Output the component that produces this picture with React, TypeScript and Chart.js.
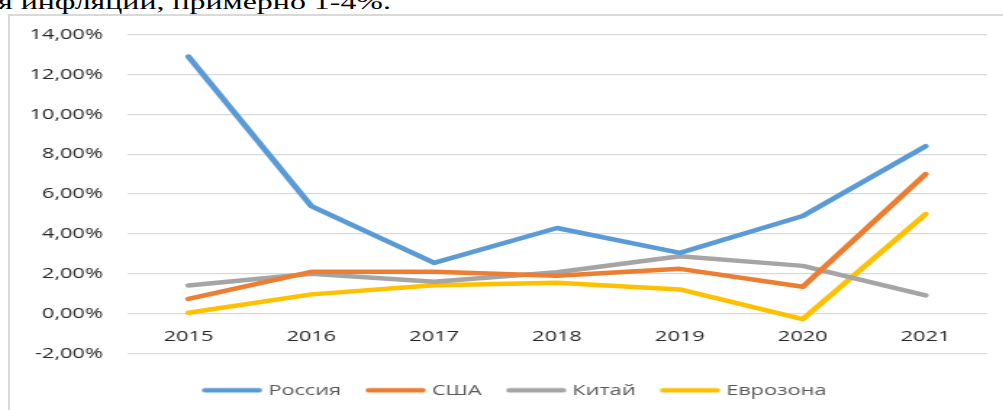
import React, { useEffect, useRef } from "react";
import { Chart, registerables } from "chart.js";

Chart.register(...registerables);

const years = ["2015", "2016", "2017", "2018", "2019", "2020", "2021"];
const russia = [12.9, 5.4, 2.55, 4.3, 3.05, 4.9, 8.4];
const usa = [0.74, 2.1, 2.1, 1.9, 2.25, 1.35, 7.0];
const china = [1.42, 2.0, 1.6, 2.08, 2.88, 2.4, 0.92];
const eurozone = [0.05, 0.97, 1.43, 1.55, 1.22, -0.27, 5.0];
const seriesNames = ["Россия", "США", "Китай", "Еврозона"];
const yMin = -2;
const yMax = 14;
const yStep = 2;

const STRETCH = 1.45;
const CW = 699;
const CH = 401;
const CTOP = 8.7;
const FONT = "'Open Sans', 'DejaVu Sans', sans-serif";

function lineSwatch(color: string) {
  const c = document.createElement("canvas");
  c.width = 42;
  c.height = 8;
  const g = c.getContext("2d") as CanvasRenderingContext2D;
  g.strokeStyle = color;
  g.lineWidth = 4.5;
  g.lineCap = "round";
  g.beginPath();
  g.moveTo(2.5, 4);
  g.lineTo(39.5, 4);
  g.stroke();
  return c;
}

const unclipY = {
  id: "unclipY",
  afterLayout(chart: any) {
    const s = chart.scales.y;
    if (s) s.left = 0;
  },
};

export default function App() {
  const ref = useRef<HTMLCanvasElement | null>(null);

  useEffect(() => {
    document.body.style.margin = "0";
    const colors = ["#5B9BD5", "#ED7D31", "#A5A5A5", "#FFC000"];
    const data = [russia, usa, china, eurozone];
    const chart = new Chart(ref.current as HTMLCanvasElement, {
      type: "line",
      data: {
        labels: years,
        datasets: seriesNames.map((n, i) => ({
          label: n,
          data: data[i],
          borderColor: colors[i],
          backgroundColor: colors[i],
          borderWidth: 4.5,
          borderCapStyle: "round" as const,
          borderJoinStyle: "round" as const,
          pointRadius: 0,
          pointHoverRadius: 0,
          pointStyle: lineSwatch(colors[i]) as any,
          tension: 0,
          fill: false,
        })),
      },
      plugins: [unclipY],
      options: {
        responsive: false,
        maintainAspectRatio: false,
        animation: false,
        devicePixelRatio: 1,
        layout: { padding: { left: 25, right: 25.2, top: 0, bottom: 2.2 } },
        plugins: {
          tooltip: { enabled: false },
          legend: {
            position: "bottom",
            align: "center",
            title: { display: true, text: " ", font: { size: 1 }, padding: { top: 0, bottom: 8 } },
            labels: {
              usePointStyle: true,
              pointStyleWidth: 35,
              boxHeight: 15,
              padding: 20,
              color: "#595959",
              font: { family: FONT, size: 15 },
            },
          },
        },
        scales: {
          x: {
            position: { y: 0 } as any,
            offset: true,
            grid: { display: false, drawTicks: false },
            border: { display: false },
            ticks: { color: "#262626", font: { family: FONT, size: 15 }, padding: 14, maxRotation: 0 },
          },
          y: {
            min: yMin,
            max: yMax,
            afterFit: (s: any) => {
              s.width = 55.7;
            },
            grid: { color: "#D9D9D9", lineWidth: 1.3, drawTicks: false },
            border: { display: false },
            ticks: {
              stepSize: yStep,
              padding: 16.6,
              color: "#262626",
              font: { family: FONT, size: 15 },
              callback: (v: any) => Number(v).toFixed(2).replace(".", ",") + "%",
            },
          },
        },
      },
    });
    return () => chart.destroy();
  }, []);

  return (
    <div style={{ position: "fixed", left: 0, top: 0, width: 1003, height: 410, overflow: "hidden", background: "#fff" }}>
      <div
        style={{
          position: "absolute",
          left: -2,
          top: -8.6,
          fontFamily: "'Liberation Serif', 'Times New Roman', serif",
          fontSize: 22,
          lineHeight: "22px",
          whiteSpace: "nowrap",
          color: "#000",
          transform: `scaleX(${STRETCH})`,
          transformOrigin: "0 0",
        }}
      >
        я инфляции, примерно 1-4%.
      </div>
      <div
        style={{
          position: "absolute",
          left: 8,
          top: 14,
          width: 1100,
          height: 500,
          borderLeft: "2px solid #D9D9D9",
          borderTop: "2px solid #D9D9D9",
        }}
      />
      <div
        style={{
          position: "absolute",
          left: 10,
          top: CTOP,
          width: CW,
          height: CH,
          transform: `scaleX(${STRETCH})`,
          transformOrigin: "0 0",
        }}
      >
        <canvas ref={ref} width={CW} height={CH} style={{ display: "block" }} />
      </div>
    </div>
  );
}
